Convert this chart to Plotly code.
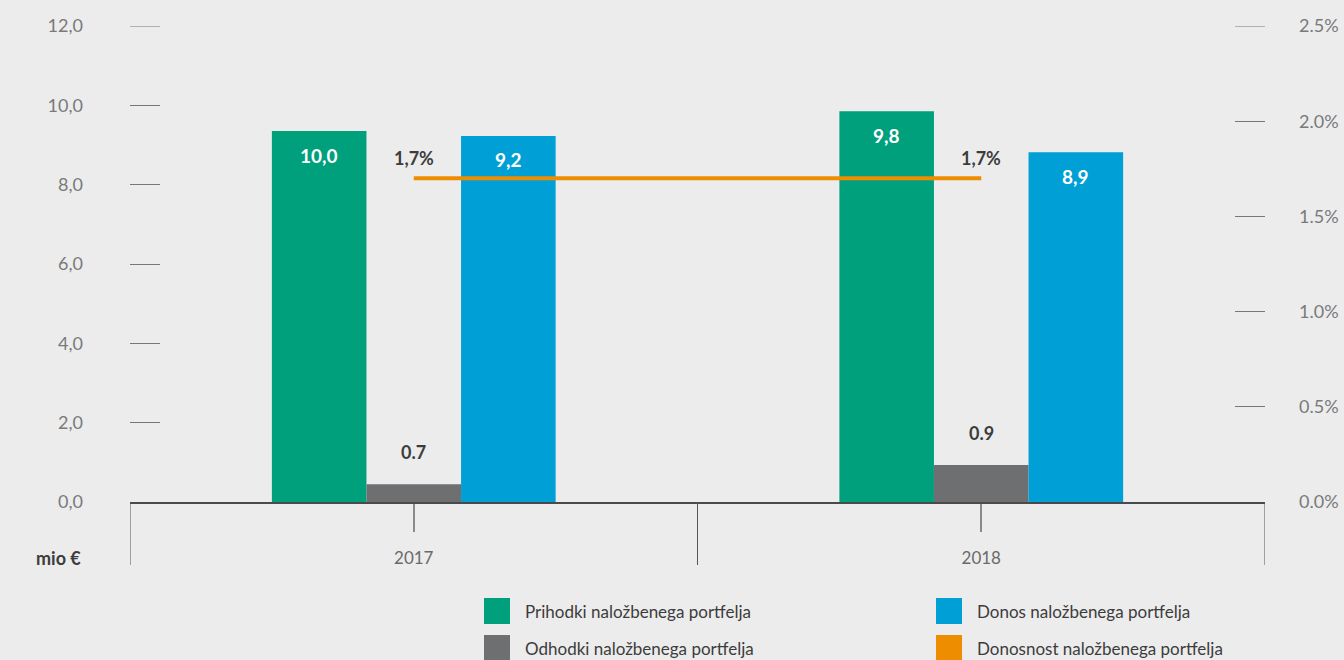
import plotly.graph_objects as go

# ---------------- data ----------------
years = ["2017", "2018"]
prihodki = [9.35, 9.85]          # bar heights as drawn (mio €)
prihodki_labels = ["10,0", "9,8"]
odhodki = [0.45, 0.93]
odhodki_labels = ["0.7", "0.9"]
donos = [9.23, 8.82]
donos_labels = ["9,2", "8,9"]
donosnost = [1.7, 1.7]           # %
donosnost_labels = ["1,7%", "1,7%"]

left_ticks = [0, 2, 4, 6, 8, 10, 12]
left_ticktext = ["0,0", "2,0", "4,0", "6,0", "8,0", "10,0", "12,0"]
right_ticks = [0, 0.5, 1.0, 1.5, 2.0, 2.5]
right_ticktext = ["0.0%", "0.5%", "1.0%", "1.5%", "2.0%", "2.5%"]

names = ["Prihodki naložbenega portfelja", "Odhodki naložbenega portfelja",
         "Donos naložbenega portfelja", "Donosnost naložbenega portfelja"]

GREEN = "#00a07d"
GRAY = "#6d6f71"
BLUE = "#009fd6"
ORANGE = "#ef8d00"
BG = "#ececec"
DARK = "#3c3c3c"
FONT = "Lato"
TICKC = "#777777"

W, H = 1344, 660
ML, MR, MT, MB = 130, 79, 26, 158
PW, PH = W - ML - MR, H - MT - MB


def px(xp):
    return (xp - ML) / PW


def py(yp):
    return (H - MB - yp) / PH


fig = go.Figure()
BW = 1 / 6
series = [(prihodki, prihodki_labels, GREEN, names[0], -1),
          (odhodki, odhodki_labels, GRAY, names[1], 0),
          (donos, donos_labels, BLUE, names[2], 1)]
for vals, labs, col, nm, k in series:
    fig.add_trace(go.Bar(x=years, y=vals, name=nm, marker_color=col,
                         marker_line_width=0, width=BW, offset=k * BW - BW / 2,
                         showlegend=False))

fig.add_trace(go.Scatter(x=years, y=donosnost, name=names[3], mode="lines",
                         line=dict(color=ORANGE, width=4), yaxis="y2",
                         showlegend=False))

ann = []
# value labels
for i in range(len(years)):
    ann.append(dict(x=i - BW, y=prihodki[i], xref="x", yref="y", text=f"<b>{prihodki_labels[i]}</b>",
                    showarrow=False, yshift=-24, font=dict(family=FONT, size=19, color="white")))
    ann.append(dict(x=i + BW, y=donos[i], xref="x", yref="y", text=f"<b>{donos_labels[i]}</b>",
                    showarrow=False, yshift=-24, font=dict(family=FONT, size=19, color="white")))
    ann.append(dict(x=i, y=odhodki[i], xref="x", yref="y", text=f"<b>{odhodki_labels[i]}</b>",
                    showarrow=False, yshift=32, font=dict(family=FONT, size=18, color=DARK)))
    ann.append(dict(x=i, y=donosnost[i], xref="x", yref="y2", text=f"<b>{donosnost_labels[i]}</b>",
                    showarrow=False, yshift=20, font=dict(family=FONT, size=18, color=DARK)))

ann.append(dict(x=px(83), y=py(558), xref="paper", yref="paper", xanchor="right", yanchor="middle",
                text="<b>mio €</b>", showarrow=False, font=dict(family=FONT, size=18, color=DARK)))

shapes = []
# category separators
for xv in [-0.5, 0.5, 1.5]:
    shapes.append(dict(type="line", xref="x", yref="paper", x0=xv, x1=xv, y0=0, y1=py(565),
                       line=dict(color="#555555", width=1)))

# top tick dashes (plotly omits inside ticks at the range edge)
shapes.append(dict(type="line", xref="paper", yref="y", x0=0, x1=px(160),
                   y0=left_ticks[-1], y1=left_ticks[-1], line=dict(color=TICKC, width=1)))
shapes.append(dict(type="line", xref="paper", yref="y2", x0=px(1235), x1=1,
                   y0=right_ticks[-1], y1=right_ticks[-1], line=dict(color=TICKC, width=1)))

# manual legend
legend_items = [(names[0], GREEN, 484, 611), (names[1], GRAY, 484, 648),
                (names[2], BLUE, 936, 611), (names[3], ORANGE, 936, 648)]
for nm, col, x0, yc in legend_items:
    shapes.append(dict(type="rect", xref="paper", yref="paper", x0=px(x0), x1=px(x0 + 26),
                       y0=py(yc - 13), y1=py(yc + 13), line_width=0, fillcolor=col))
    ann.append(dict(x=px(x0 + 39), y=py(yc), xref="paper", yref="paper", xanchor="left",
                    yanchor="middle", text=nm, showarrow=False,
                    font=dict(family=FONT, size=17, color=DARK)))

fig.update_layout(
    width=W, height=H,
    margin=dict(l=ML, r=MR, t=MT, b=MB, autoexpand=False),
    paper_bgcolor=BG, plot_bgcolor=BG,
    barmode="overlay",
    showlegend=False,
    xaxis=dict(type="category", range=[-0.5, 1.5], showgrid=False, zeroline=False,
               showline=True, linecolor="#4a4a4a", linewidth=2, automargin=False,
               ticks="outside", ticklen=28, tickwidth=2, tickcolor="#8a8a8a",
               ticklabelstandoff=12,
               tickfont=dict(family=FONT, size=17, color="#6a6a6a")),
    yaxis=dict(range=[0, 12], tickvals=left_ticks, ticktext=left_ticktext,
               showgrid=False, zeroline=False, showline=False, automargin=False,
               ticks="inside", ticklen=30, tickwidth=1, tickcolor=TICKC,
               ticklabelstandoff=46,
               tickfont=dict(family=FONT, size=18, color="#7a7a7a")),
    yaxis2=dict(range=[0, 2.5], tickvals=right_ticks, ticktext=right_ticktext,
                overlaying="y", side="right", showgrid=False, zeroline=False, showline=False,
                automargin=False,
                ticks="inside", ticklen=30, tickwidth=1, tickcolor=TICKC,
                ticklabelstandoff=33,
                tickfont=dict(family=FONT, size=18, color="#7a7a7a")),
    annotations=ann,
    shapes=shapes,
)

fig.write_html("out.html", config={"displayModeBar": False},
               post_script="document.body.style.margin='0';document.body.style.background='%s';" % BG)
